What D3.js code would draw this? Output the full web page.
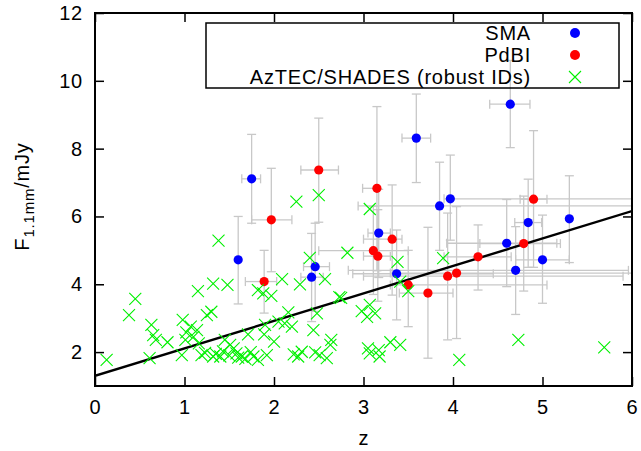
<!DOCTYPE html>
<html>
<head>
<meta charset="utf-8">
<script src="https://cdn.jsdelivr.net/npm/d3@7"></script>
<style>
  html, body { margin: 0; padding: 0; background: #fff; }
  svg { display: block; font-family: "Liberation Sans", Arial, sans-serif; }
</style>
</head>
<body>
<svg id="chart" width="641" height="451"></svg>
<script>
// ---- data ----
// [z, F, zLow, zHigh, FLow, FHigh]
const smaPoints = [
  [1.60, 4.72, 1.60, 1.60, 3.42, 6.00],
  [1.75, 7.11, 1.64, 1.85, 5.80, 8.42],
  [2.42, 4.21, 2.30, 2.55, 2.90, 5.50],
  [2.46, 4.52, 2.33, 2.62, 3.20, 5.80],
  [3.17, 5.51, 3.05, 3.30, 4.20, 6.80],
  [3.37, 4.31, 2.88, 4.45, 2.95, 5.60],
  [3.59, 8.31, 3.43, 3.75, 7.00, 9.61],
  [3.85, 6.31, 2.94, 6.50, 5.00, 7.60],
  [3.97, 6.52, 3.90, 6.50, 5.30, 7.81],
  [4.60, 5.21, 3.93, 5.16, 3.93, 6.50],
  [4.64, 9.31, 4.41, 4.86, 8.03, 10.60],
  [4.70, 4.41, 2.83, 5.96, 3.11, 5.70],
  [4.84, 5.82, 4.69, 4.99, 4.50, 7.10],
  [5.00, 4.72, 4.70, 5.30, 3.44, 6.04],
  [5.30, 5.93, 5.30, 5.30, 4.64, 7.20]
];
const pdbiPoints = [
  [1.89, 4.08, 1.68, 2.03, 3.15, 5.00],
  [1.97, 5.90, 1.75, 2.20, 4.37, 7.42],
  [2.50, 7.37, 2.30, 2.72, 5.83, 8.90],
  [3.15, 6.83, 2.99, 3.15, 4.40, 9.24],
  [3.11, 4.99, 2.50, 3.50, 3.70, 6.30],
  [3.16, 4.83, 3.00, 3.30, 3.50, 6.20],
  [3.32, 5.33, 3.00, 3.43, 3.68, 6.93],
  [3.50, 3.98, 3.30, 5.05, 2.75, 5.00],
  [3.72, 3.74, 3.40, 4.00, 1.82, 5.68],
  [3.94, 4.24, 3.00, 5.90, 2.36, 6.10],
  [4.04, 4.33, 3.30, 6.00, 2.40, 6.29],
  [4.28, 4.81, 3.90, 4.65, 3.83, 5.75],
  [4.79, 5.20, 4.30, 5.20, 3.80, 6.60],
  [4.90, 6.51, 4.75, 5.05, 4.50, 8.53]
];
// [z, F]
const aztecPoints = [
  [0.13,1.77],[0.38,3.09],[0.45,3.57],[0.63,2.80],[0.65,2.50],[0.68,2.36],[0.61,1.82],
  [0.81,2.29],[0.98,2.95],[0.97,1.91],[1.02,2.58],[1.07,2.75],[1.01,2.36],[1.14,2.65],
  [1.15,3.80],[1.16,2.26],[1.19,1.91],[1.25,3.09],[1.30,3.19],[1.32,4.02],[1.32,1.87],
  [1.38,5.29],[1.40,1.87],[1.45,2.36],[1.48,3.98],[1.51,2.21],[1.55,2.11],[1.58,1.96],
  [1.64,1.87],[1.71,2.52],[1.77,1.87],[1.82,1.77],[1.82,3.83],[1.88,3.73],[1.90,2.80],
  [1.89,2.52],[1.92,1.91],[1.97,3.66],[2.00,2.31],[2.09,4.15],[2.05,2.90],[2.12,2.85],
  [2.16,3.17],[2.20,2.75],[2.22,1.93],[2.27,1.87],[2.29,4.00],[2.31,2.01],[2.40,4.78],
  [2.44,2.65],[2.46,1.99],[2.48,3.14],[2.57,4.15],[2.82,4.93],[2.73,3.62],[2.75,3.60],
  [2.51,1.91],[2.59,1.82],[2.64,2.36],[2.63,2.21],[2.98,3.21],[3.04,3.04],[3.13,3.14],
  [3.07,3.39],[3.05,2.11],[3.07,1.96],[3.17,2.06],[3.18,1.87],[3.30,2.29],[3.41,2.21],
  [3.38,4.66],[3.41,4.08],[3.50,3.80],[3.89,4.77],[4.07,1.77],[4.73,2.36],[5.69,2.14],
  [3.07,6.22],[2.25,6.44],[2.50,6.63],[1.23,1.98],[1.35,1.95],[1.43,2.02],[1.50,1.90],
  [1.60,1.84],[1.68,1.80],[1.74,2.00],[1.10,2.45]
];
// fit line end points [z, F]
const fitLine = [[0, 1.30], [6, 6.16]];
const xTicks = [0, 1, 2, 3, 4, 5, 6];
const yTicks = [2, 4, 6, 8, 10, 12];
const legendLabels = ["SMA", "PdBI", "AzTEC/SHADES (robust IDs)"];

// ---- layout ----
const svg = d3.select("#chart");
const L = 95, R = 632, T = 13, B = 386;
const x = d3.scaleLinear().domain([0, 6]).range([L, R]);
const y = d3.scaleLinear().domain([1, 12]).range([B, T]);
const FS = 20, LS = "0.8px";
const errColor = "#c8c8c8";
const cap = 4.5;

const plot = svg.append("g");
svg.append("defs").append("clipPath").attr("id", "clip")
  .append("rect").attr("x", L).attr("y", T).attr("width", R - L).attr("height", B - T);
const inner = plot.append("g").attr("clip-path", "url(#clip)");

// error bars
function drawErr(data) {
  const g = inner.append("g").attr("stroke", errColor).attr("stroke-width", 1.3).attr("fill", "none");
  data.forEach(d => {
    const [z, f, zl, zh, fl, fh] = d;
    const px = x(z), py = y(f);
    g.append("line").attr("x1", px).attr("x2", px).attr("y1", y(fl)).attr("y2", y(fh));
    g.append("line").attr("x1", px - cap).attr("x2", px + cap).attr("y1", y(fl)).attr("y2", y(fl));
    g.append("line").attr("x1", px - cap).attr("x2", px + cap).attr("y1", y(fh)).attr("y2", y(fh));
    if (zh > zl) {
      g.append("line").attr("x1", x(zl)).attr("x2", x(zh)).attr("y1", py).attr("y2", py);
      g.append("line").attr("x1", x(zl)).attr("x2", x(zl)).attr("y1", py - cap).attr("y2", py + cap);
      g.append("line").attr("x1", x(zh)).attr("x2", x(zh)).attr("y1", py - cap).attr("y2", py + cap);
    }
  });
}
drawErr(smaPoints);
drawErr(pdbiPoints);

// fit line
inner.append("path")
  .attr("d", d3.line().x(d => x(d[0])).y(d => y(d[1]))(fitLine))
  .attr("stroke", "#000").attr("stroke-width", 2.4).attr("fill", "none");

// points
inner.append("g").selectAll("circle").data(smaPoints).join("circle")
  .attr("cx", d => x(d[0])).attr("cy", d => y(d[1])).attr("r", 4.6).attr("fill", "#0000ff");
inner.append("g").selectAll("circle").data(pdbiPoints).join("circle")
  .attr("cx", d => x(d[0])).attr("cy", d => y(d[1])).attr("r", 4.6).attr("fill", "#ff0000");

const cs = 6;
function crossPath(px, py) {
  return `M${px - cs},${py - cs}L${px + cs},${py + cs}M${px - cs},${py + cs}L${px + cs},${py - cs}`;
}
inner.append("g").selectAll("path").data(aztecPoints).join("path")
  .attr("d", d => crossPath(x(d[0]), y(d[1])))
  .attr("stroke", "#00f000").attr("stroke-width", 1.1).attr("fill", "none");

// axes
const tick = 9;
const axB = svg.append("g").attr("transform", `translate(0,${B})`)
  .call(d3.axisBottom(x).tickValues(xTicks).tickSize(-tick).tickPadding(14).tickFormat(d3.format("d")));
const axT = svg.append("g").attr("transform", `translate(0,${T})`)
  .call(d3.axisTop(x).tickValues(xTicks).tickSize(-tick).tickFormat(""));
const axL = svg.append("g").attr("transform", `translate(${L},0)`)
  .call(d3.axisLeft(y).tickValues(yTicks).tickSize(-tick).tickPadding(12).tickFormat(d3.format("d")));
const axR = svg.append("g").attr("transform", `translate(${R},0)`)
  .call(d3.axisRight(y).tickValues(yTicks).tickSize(-tick).tickFormat(""));
[axB, axT, axL, axR].forEach(a => {
  a.select(".domain").remove();
  a.selectAll(".tick line").attr("stroke", "#000").attr("stroke-width", 1.5);
  a.selectAll("text").attr("font-size", FS).attr("fill", "#000").attr("letter-spacing", LS)
    .attr("font-family", "Liberation Sans, Arial, sans-serif");
});

// frame
svg.append("rect").attr("x", L).attr("y", T).attr("width", R - L).attr("height", B - T)
  .attr("fill", "none").attr("stroke", "#000").attr("stroke-width", 2);

// axis labels
svg.append("text").attr("x", (L + R) / 2).attr("y", 445).attr("text-anchor", "middle")
  .attr("font-size", FS).text("z");
const yl = svg.append("text").attr("transform", `translate(29,${(T + B) / 2 - 3}) rotate(-90)`)
  .attr("text-anchor", "middle").attr("font-size", FS).attr("letter-spacing", LS);
yl.append("tspan").text("F");
yl.append("tspan").attr("font-size", 15).attr("dy", 5).text("1.1mm");
yl.append("tspan").attr("dy", -5).text("/mJy");

// legend
const lg = svg.append("g");
lg.append("rect").attr("x", 206).attr("y", 23).attr("width", 413).attr("height", 65)
  .attr("fill", "none").attr("stroke", "#000").attr("stroke-width", 1.5);
const rowsY = [33, 55, 77];
legendLabels.forEach((t, i) => {
  lg.append("text").attr("x", 531).attr("y", rowsY[i]).attr("dy", "0.36em")
    .attr("text-anchor", "end").attr("font-size", FS).attr("letter-spacing", LS).text(t);
});
lg.append("circle").attr("cx", 575).attr("cy", rowsY[0]).attr("r", 5).attr("fill", "#0000ff");
lg.append("circle").attr("cx", 575).attr("cy", rowsY[1]).attr("r", 5).attr("fill", "#ff0000");
lg.append("path").attr("d", crossPath(575, rowsY[2]))
  .attr("stroke", "#00f000").attr("stroke-width", 1.1).attr("fill", "none");
</script>
</body>
</html>
